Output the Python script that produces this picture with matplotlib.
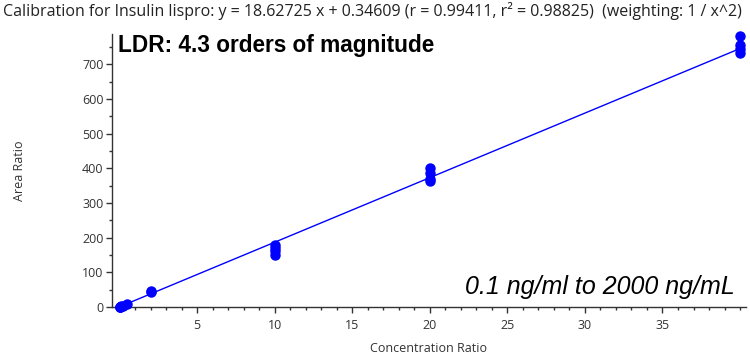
"""
plot.py - calibration curve for insulin lispro (area ratio vs concentration ratio).
"""
import numpy as np
import matplotlib
matplotlib.use("Agg")
import matplotlib.pyplot as plt
from matplotlib.ticker import MultipleLocator

# replicate points
conc_ratio = [0.002, 0.01, 0.05, 0.1, 0.2, 0.5,
              2, 2,
              10, 10, 10, 10,
              20, 20, 20, 20,
              40, 40, 40, 40]
area_ratio = [0.4, 0.5, 1.2, 2.1, 4.0, 9.5,
              44, 46,
              178, 170, 160, 150,
              400, 385, 370, 362,
              782, 755, 745, 733]

SLOPE = 18.62725
INTERCEPT = 0.34609
TITLE = ("Calibration for Insulin lispro: y = 18.62725 x + 0.34609 "
         "(r = 0.99411, r\u00b2 = 0.98825)  (weighting: 1 / x^2)")
LDR_TEXT = "LDR: 4.3 orders of magnitude"
RANGE_TEXT = "0.1 ng/ml to 2000 ng/mL"

BLUE = "#0000ff"
UI_FONT = ["Open Sans", "DejaVu Sans"]
ARIAL = ["Liberation Sans", "DejaVu Sans"]

fig = plt.figure(figsize=(7.5, 3.59), dpi=100)
ax = fig.add_axes([0.149, 0.145, 0.846, 0.76])

fit_x = np.array([0.0, 40.0])
fit_y = SLOPE * fit_x + INTERCEPT
ax.plot(fit_x, fit_y, color=BLUE, lw=1.0, zorder=2)
ax.plot(conc_ratio, area_ratio, "o", color=BLUE, ms=6.5, mec=BLUE,
        zorder=3, clip_on=False)

ax.set_xlim(-0.5, 40.4)
ax.set_ylim(0, 787)
ax.xaxis.set_major_locator(MultipleLocator(5))
ax.xaxis.set_minor_locator(MultipleLocator(1))
ax.yaxis.set_major_locator(MultipleLocator(100))
ax.yaxis.set_minor_locator(MultipleLocator(50))
ax.set_xticks([5, 10, 15, 20, 25, 30, 35])

for side in ("top", "right"):
    ax.spines[side].set_visible(False)
for side in ("left", "bottom"):
    ax.spines[side].set_color("#333333")
    ax.spines[side].set_linewidth(1.0)

ax.tick_params(which="major", length=4, width=1, color="#333333",
               labelsize=9, labelcolor="#333333")
ax.tick_params(axis="x", which="major", pad=5)
ax.tick_params(axis="y", which="major", pad=2)
ax.tick_params(which="minor", length=2.5, width=1, color="#333333")
for lbl in ax.get_xticklabels() + ax.get_yticklabels():
    lbl.set_family(UI_FONT)

ax.set_xlabel("Concentration Ratio", fontsize=9, family=UI_FONT,
              color="#333333")
ax.set_ylabel("Area Ratio", fontsize=9, family=UI_FONT, color="#333333")
ax.xaxis.set_label_coords(0.5, -0.13)
ax.yaxis.set_label_coords(-0.135, 0.5)

fig.text(0.004, 0.97, TITLE, fontsize=11.5, family=UI_FONT,
         color="#222222", ha="left", va="center")

ax.text(0.01, 0.934, LDR_TEXT, transform=ax.transAxes, fontsize=16.3,
        fontweight="bold", family=ARIAL, ha="left", va="baseline")
ax.text(0.982, 0.048, RANGE_TEXT, transform=ax.transAxes, fontsize=18,
        style="italic", family=ARIAL, ha="right", va="baseline")

fig.savefig("out.png", dpi=100)
plt.close(fig)
